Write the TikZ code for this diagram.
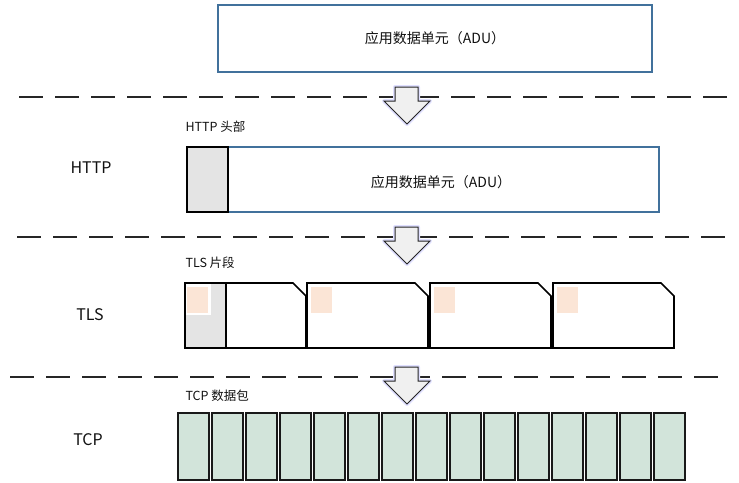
\documentclass[tikz,border=0pt]{standalone}
\usepackage{fontspec}
\setmainfont{Noto Sans CJK SC}
\definecolor{boxblue}{HTML}{41719C}
\definecolor{arrowgray}{HTML}{F0F0F0}
\definecolor{hdrgray}{HTML}{E4E4E4}
\definecolor{pinkfill}{HTML}{FBE5D6}
\definecolor{tcpfill}{HTML}{D2E4DA}
\definecolor{txt}{HTML}{111111}
\begin{document}
\begin{tikzpicture}[x=1pt,y=-1pt,
  sepline/.style={line width=1.4pt, dash pattern=on 24pt off 12pt, draw=black!85},
  bluebox/.style={draw=boxblue, line width=1.3pt, fill=white, inner sep=0pt, outer sep=0pt, anchor=north west},
  hdrbox/.style={draw=black, line width=1.3pt, fill=hdrgray, inner sep=0pt, outer sep=0pt, anchor=north west},
  blockarrow/.style={draw=black!85, line width=1pt, fill=arrowgray, line join=miter},
  arrowglow/.style={draw=blue!12, line width=4pt, line join=round},
  frag/.style={draw=black, line width=1.6pt, fill=white, line join=miter},
  seg/.style={draw=black!90, line width=1.3pt, fill=tcpfill, inner sep=0pt, outer sep=0pt, anchor=north west, minimum width=31pt, minimum height=67pt},
  biglabel/.style={font=\fontsize{16}{19}\selectfont, text=txt},
  smalllabel/.style={font=\fontsize{12.5}{15}\selectfont, text=txt, anchor=west},
  midtext/.style={font=\fontsize{14}{17}\selectfont, text=txt}
]
\useasboundingbox (0,0) rectangle (739,482);

% separators
\foreach \yy/\xs in {97/19,237/17,377/10}{
  \draw[sepline] (\xs,\yy) -- (728,\yy);
}

% block arrows
\foreach \yy in {97,237,377}{
  \draw[arrowglow] (395,\yy-10) -- (418,\yy-10) -- (418,\yy+4) -- (430,\yy+4) -- (407,\yy+27) -- (384,\yy+4) -- (395,\yy+4) -- cycle;
  \draw[blockarrow] (395,\yy-10) -- (418,\yy-10) -- (418,\yy+4) -- (430,\yy+4) -- (407,\yy+27) -- (384,\yy+4) -- (395,\yy+4) -- cycle;
}

% top ADU box
\node[bluebox, minimum width=434pt, minimum height=67pt, midtext] (adu) at (218,5) {应用数据单元（ADU）};

% HTTP
\node[bluebox, minimum width=431pt, minimum height=65pt] (httppay) at (228,147) {};
\node[midtext] (httptext) at (441,182) {应用数据单元（ADU）};
\node[hdrbox, minimum width=41pt, minimum height=65pt] (httphdr) at (187,147) {};
\node[smalllabel] (httphl) at (182,127) {HTTP 头部};
\node[biglabel] (httpl) at (91,168) {HTTP};

% TLS
\node[smalllabel] (tlshl) at (182,263) {TLS 片段};
\node[biglabel] (tlsl) at (90,315) {TLS};
\foreach \xx/\nm in {185/f1,307/f2,430/f3,553/f4}{
  \draw[frag] (\xx,283) coordinate (\nm) -- (\xx+108,283) -- (\xx+121,296) -- (\xx+121,348) -- (\xx,348) -- cycle;
}
\draw[draw=black, line width=1.6pt, fill=hdrgray] (185,283) rectangle (226,348);
\fill[white] (186,284) rectangle (211,315);
\foreach \xx in {187,311,434,557}{
  \fill[pinkfill] (\xx,287) rectangle (\xx+21,313);
}

% TCP
\node[smalllabel] (tcphl) at (182,396) {TCP 数据包};
\node[biglabel] (tcpl) at (88,440) {TCP};
\foreach \i in {0,...,14}{
  \node[seg] (t\i) at (178+\i*34,413) {};
}
\end{tikzpicture}
\end{document}
